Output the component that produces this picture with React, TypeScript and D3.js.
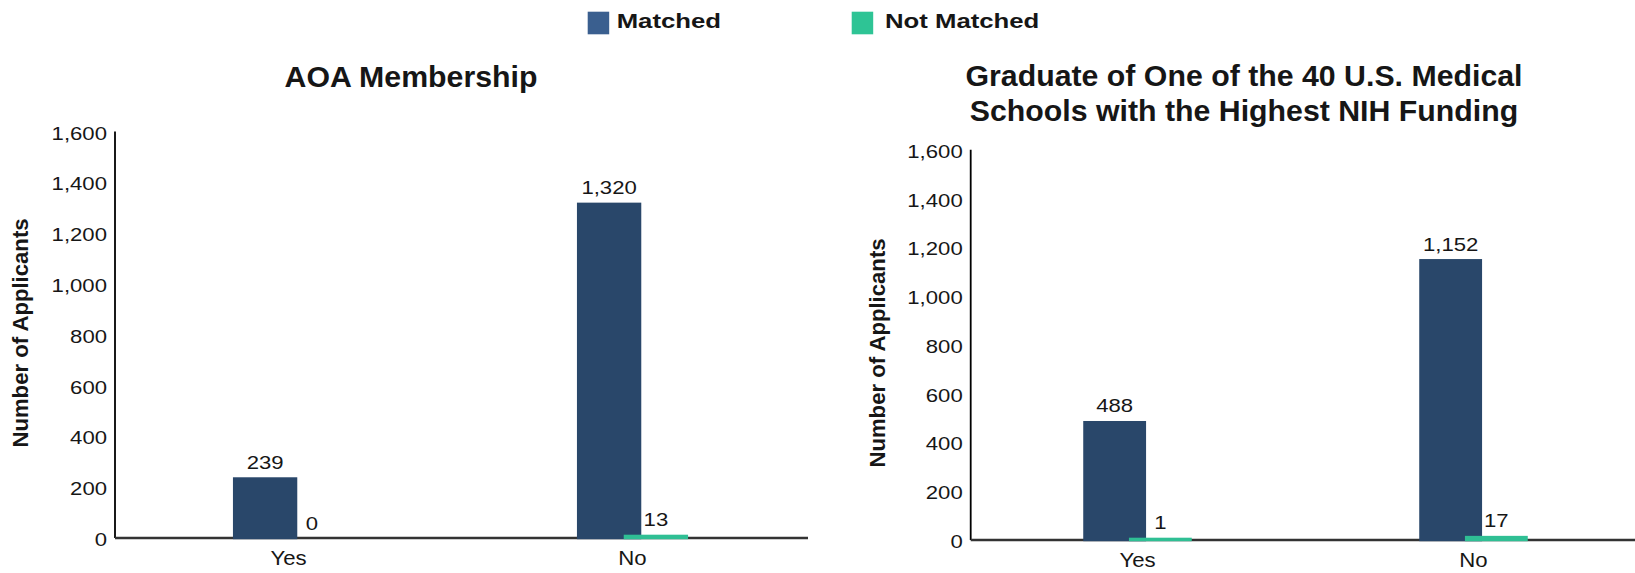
import React from "react";
import * as d3 from "d3";

// ---- data ----
const categories = ["Yes", "No"];
const seriesNames = ["Matched", "Not Matched"];
const aoaMatched = [239, 1320];
const aoaNotMatched = [0, 13];
const nihMatched = [488, 1152];
const nihNotMatched = [1, 17];
const yTicks = [0, 200, 400, 600, 800, 1000, 1200, 1400, 1600];
const leftTitle = ["AOA Membership"];
const rightTitle = ["Graduate of One of the 40 U.S. Medical", "Schools with the Highest NIH Funding"];
const yAxisTitle = "Number of Applicants";

const FONT = "'Liberation Sans', Arial, Helvetica, sans-serif";
const C_MATCHED = "#29476a";
const C_NOT = "#2fbf94";
const C_LEG_MATCHED = "#3a5f8f";
const C_LEG_NOT = "#2ec495";
const TXT = "#161616";

const fmt = d3.format(",");

type STProps = {
  x: number; y: number; sx?: number; anchor?: string; size: number; weight?: string | number;
  rotate?: number; children: React.ReactNode; fill?: string;
};
function ST({ x, y, sx = 1, anchor = "start", size, weight = "normal", rotate = 0, children, fill = TXT }: STProps) {
  return (
    <text
      transform={`translate(${x},${y}) rotate(${rotate}) scale(${sx},1)`}
      textAnchor={anchor as any}
      fontSize={size}
      fontWeight={weight as any}
      fontFamily={FONT}
      fill={fill}
    >
      {children}
    </text>
  );
}

type PanelProps = {
  axisX: number; xEnd: number; bandStart: number; bandEnd: number; yBase: number; yTop: number;
  matched: number[]; notMatched: number[]; title: string[]; titleX: number; titleY: number;
  yTitleX: number; yTitleY: number;
};

function Panel(p: PanelProps) {
  const x = d3.scaleBand<string>().domain(categories).range([p.bandStart, p.bandEnd]).padding(0);
  const y = d3.scaleLinear().domain([0, 1600]).range([p.yBase, p.yTop]);
  const bw = x.bandwidth();
  const W = bw * 0.187;
  const O = bw * 0.136;
  const tickSize = 18.6;
  const tickSx = 1.19;
  const barH = (v: number) => {
    const h = y(0) - y(v);
    return v > 0 ? Math.max(h, 2.3) : 0;
  };
  return (
    <g>
      {p.title.map((t, i) => (
        <ST key={i} x={p.titleX} y={p.titleY + i * 34.5} anchor="middle" size={29} weight="bold" sx={1.045}>
          {t}
        </ST>
      ))}
      <ST x={p.yTitleX} y={p.yTitleY} anchor="middle" size={21.5} weight="bold" rotate={-90} sx={1.03}>
        {yAxisTitle}
      </ST>
      {yTicks.map((t) => (
        <ST key={t} x={p.axisX - 8} y={y(t) + 8} anchor="end" size={tickSize} sx={tickSx}>
          {fmt(t)}
        </ST>
      ))}
      <line x1={p.axisX} x2={p.axisX} y1={p.yTop} y2={p.yBase} stroke="#000" strokeWidth={1.8} />
      <line x1={p.axisX} x2={p.xEnd} y1={p.yBase} y2={p.yBase} stroke="#333" strokeWidth={2.5} />
      {categories.map((c, i) => {
        const cx = (x(c) as number) + bw / 2;
        const left = cx - (W + O) / 2;
        const mv = p.matched[i];
        const nv = p.notMatched[i];
        const mh = barH(mv);
        const nh = barH(nv);
        return (
          <g key={c}>
            <rect x={left} y={y(0) - mh} width={W} height={mh + 1.2} fill={C_MATCHED} />
            <rect x={left + O} y={y(0) - nh} width={W} height={nh > 0 ? nh + 1.2 : 0} fill={C_NOT} />
            <ST x={left + W / 2} y={y(0) - mh - 8.5} anchor="middle" size={tickSize} sx={tickSx}>
              {fmt(mv)}
            </ST>
            <ST x={left + O + W / 2} y={y(0) - nh - 8.5} anchor="middle" size={tickSize} sx={tickSx}>
              {fmt(nv)}
            </ST>
            <ST x={cx} y={p.yBase + 27} anchor="middle" size={20} sx={1.11}>
              {c}
            </ST>
          </g>
        );
      })}
    </g>
  );
}

export default function App() {
  const legendItems = [
    { name: seriesNames[0], color: C_LEG_MATCHED, sx: 587.7, tx: 616.7 },
    { name: seriesNames[1], color: C_LEG_NOT, sx: 851.7, tx: 885 },
  ];
  return (
    <svg
      width={1635}
      height={573}
      style={{ position: "absolute", left: 0, top: 0, background: "#fff" }}
    >
      <rect width={1635} height={573} fill="#fff" />
      {legendItems.map((l) => (
        <g key={l.name}>
          <rect x={l.sx} y={11.7} width={21.5} height={22.6} fill={l.color} />
          <ST x={l.tx} y={28.4} size={21} weight="bold" sx={1.225}>
            {l.name}
          </ST>
        </g>
      ))}
      <Panel
        axisX={115}
        xEnd={808}
        bandStart={116.5}
        bandEnd={804.5}
        yBase={538}
        yTop={131.5}
        matched={aoaMatched}
        notMatched={aoaNotMatched}
        title={leftTitle}
        titleX={411}
        titleY={87}
        yTitleX={27.5}
        yTitleY={333}
      />
      <Panel
        axisX={970.7}
        xEnd={1635}
        bandStart={969.5}
        bandEnd={1641.5}
        yBase={540}
        yTop={149.8}
        matched={nihMatched}
        notMatched={nihNotMatched}
        title={rightTitle}
        titleX={1244}
        titleY={86}
        yTitleX={885}
        yTitleY={353}
      />
    </svg>
  );
}
